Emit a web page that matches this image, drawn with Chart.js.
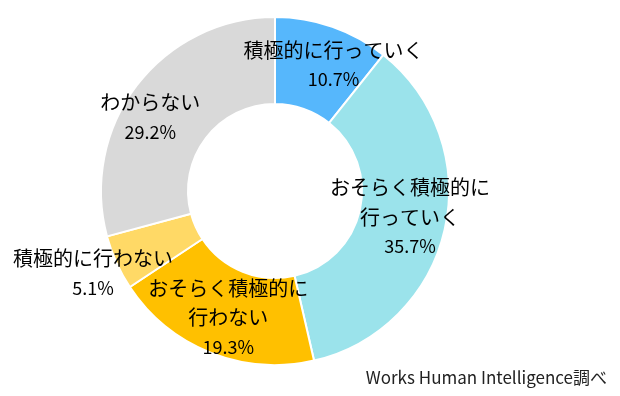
<!DOCTYPE html>
<html>
<head>
<meta charset="utf-8">
<script src="https://cdn.jsdelivr.net/npm/chart.js@4"></script>
<style>
  html, body { margin: 0; padding: 0; background: #fff; }
  #wrap { width: 620px; height: 396px; }
</style>
</head>
<body>
<div id="wrap"><canvas id="doughnut" width="620" height="396"></canvas></div>
<script>
// data, clockwise from 12 o'clock
var categories = ['積極的に行っていく', 'おそらく積極的に行っていく', 'おそらく積極的に行わない', '積極的に行わない', 'わからない'];
var values = [10.7, 35.7, 19.3, 5.1, 29.2];
// how each label is broken into lines on the chart
var labelLines = [
    ['積極的に行っていく'],
    ['おそらく積極的に', '行っていく'],
    ['おそらく積極的に', '行わない'],
    ['積極的に行わない'],
    ['わからない']
];
var colors = ['#56B7FC', '#9BE3EB', '#FFC000', '#FFD966', '#D9D9D9'];
var source = 'Works Human Intelligence調べ';

// label placement: distance (share of outer radius) and angle nudge in degrees
var labelRadius = [0.80, 0.79, 0.776, 1.147, 0.833];
var labelNudge = [5.6, -1.9, -1.5, 0, -6.8];

var jpFont = '"Noto Sans CJK JP", "Noto Sans", sans-serif';

var sliceLabels = {
    id: 'sliceLabels',
    afterDatasetsDraw: function (chart) {
        var ctx = chart.ctx;
        var meta = chart.getDatasetMeta(0);
        ctx.save();
        ctx.fillStyle = '#000';
        ctx.textAlign = 'center';
        ctx.textBaseline = 'middle';
        meta.data.forEach(function (arc, i) {
            var p = arc.getProps(['x', 'y', 'startAngle', 'endAngle', 'outerRadius'], true);
            var mid = (p.startAngle + p.endAngle) / 2 + labelNudge[i] * Math.PI / 180;
            var r = p.outerRadius * labelRadius[i];
            var lines = labelLines[i].concat([values[i].toFixed(1) + '%']);
            var lh = 29.5;
            var cx = p.x + Math.cos(mid) * r;
            var cy = p.y + Math.sin(mid) * r;
            var y0 = cy - (lines.length - 1) * lh / 2;
            lines.forEach(function (t, k) {
                ctx.font = (k === lines.length - 1 ? '18px ' : '20px ') + jpFont;
                ctx.fillText(t, cx, y0 + k * lh);
            });
        });
        // source note, bottom right
        ctx.font = '17px ' + jpFont;
        ctx.textAlign = 'right';
        ctx.fillStyle = '#222';
        ctx.fillText(source, 607, 378);
        ctx.restore();
    }
};

var ctx2 = document.getElementById('doughnut').getContext('2d');
var myChart2 = new Chart(ctx2, {
    type: 'doughnut',
    data: {
        labels: categories,
        datasets: [{
            data: values,
            backgroundColor: colors,
            borderColor: '#ffffff',
            borderWidth: 2
        }]
    },
    options: {
        responsive: false,
        animation: false,
        cutout: '50%',
        layout: {
            padding: { left: 0, right: 70, top: 16, bottom: 30 }
        },
        plugins: {
            legend: { display: false },
            tooltip: { enabled: false }
        }
    },
    plugins: [sliceLabels]
});
</script>
</body>
</html>
